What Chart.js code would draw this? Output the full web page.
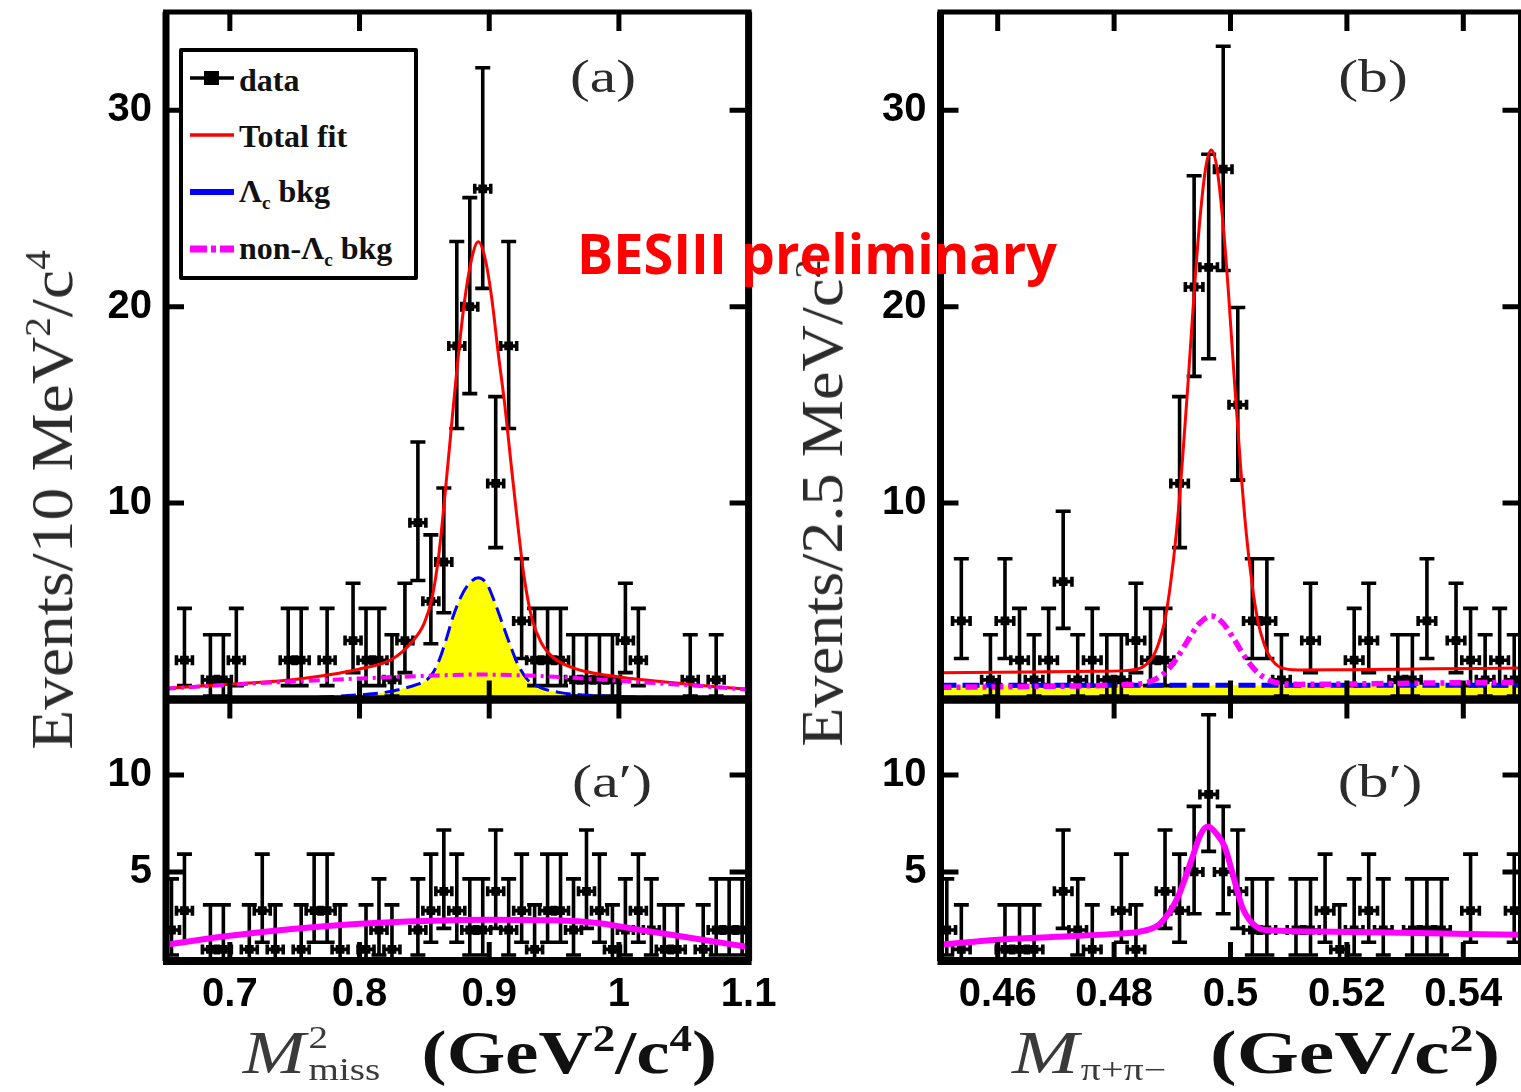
<!DOCTYPE html>
<html>
<head>
<meta charset="utf-8">
<title>BESIII preliminary</title>
<script src="https://cdn.jsdelivr.net/npm/chart.js@4.4.1/dist/chart.umd.min.js"></script>
<style>
  html, body { margin:0; padding:0; background:#fff; }
  body { width:1521px; height:1092px; position:relative; overflow:hidden; }
  .pane { position:absolute; }
  .pane canvas { display:block; }
  .lbl { position:absolute; left:0; top:0; white-space:nowrap; line-height:1; z-index:5; }
  .serif { font-family:"Liberation Serif","DejaVu Serif",serif; }
  .ytitle { font-size:60px; color:#2b2b2b; }
  .ytitle sup, .unit sup { font-size:0.6em; vertical-align:0.6em; line-height:0; }
  .tag { font-size:46px; color:#2b2b2b; }
  .xtitle { font-size:62px; color:#3a3a3a; height:62px; }
  .xtitle .mi { font-style:italic; }
  .xtitle .supsub { display:inline-block; font-size:0.52em; line-height:1; vertical-align:-7px; margin-left:0.08em; }
  .xtitle .supsub span { display:block; }
  .xtitle .sub { font-size:0.5em; vertical-align:-7px; line-height:0; margin-left:0.06em; }
  .xtitle .unit { font-weight:bold; color:#111; margin-left:0.55em; }
  .stamp { font-family:"Open Sans","DejaVu Sans",sans-serif; font-weight:700; font-size:56px; color:#ff0000; }
  #legend { position:absolute; left:179px; top:48px; width:239px; height:232px; border:4.5px solid #000; box-sizing:border-box; background:#fff; z-index:4; border-radius:2px; }
  .legtxt { font-family:"Liberation Serif","DejaVu Serif",serif; font-weight:bold; font-size:32px; color:#111; }
  .legtxt sub { font-size:0.6em; vertical-align:-0.35em; line-height:0; }
  svg.sample { position:absolute; z-index:6; }
</style>
</head>
<body>

<div class="pane" style="left:0;top:0"><canvas id="panelA" width="800" height="720"></canvas></div>
<div class="pane" style="left:0;top:680px"><canvas id="panelA2" width="800" height="412"></canvas></div>
<div class="pane" style="left:780px;top:0"><canvas id="panelB" width="800" height="720"></canvas></div>
<div class="pane" style="left:780px;top:680px"><canvas id="panelB2" width="800" height="412"></canvas></div>

<div id="legend"></div>
<svg class="sample" style="left:188px;top:68px" width="48" height="20">
  <line x1="2" y1="10" x2="46" y2="10" stroke="#000" stroke-width="3.5"/>
  <rect x="16" y="3" width="15" height="14" fill="#000"/>
</svg>
<svg class="sample" style="left:188px;top:125px" width="48" height="20">
  <line x1="2" y1="10" x2="46" y2="10" stroke="#ff0000" stroke-width="3.5"/>
</svg>
<svg class="sample" style="left:188px;top:182px" width="48" height="20">
  <line x1="2" y1="10" x2="46" y2="10" stroke="#0000ff" stroke-width="6"/>
</svg>
<svg class="sample" style="left:188px;top:239px" width="48" height="20">
  <line x1="2" y1="10" x2="46" y2="10" stroke="#ff00ff" stroke-width="7" stroke-dasharray="17 4 5 4"/>
</svg>
<div class="lbl legtxt" id="legData">data</div>
<div class="lbl legtxt" id="legFit">Total fit</div>
<div class="lbl legtxt" id="legLc">Λ<sub>c</sub> bkg</div>
<div class="lbl legtxt" id="legNonLc">non-Λ<sub>c</sub> bkg</div>

<div class="lbl serif ytitle" id="ytitleA">Events/10 MeV<sup>2</sup>/c<sup>4</sup></div>
<div class="lbl serif ytitle" id="ytitleB">Events/2.5 MeV/c<sup>2</sup></div>
<div class="lbl serif xtitle" id="xtitleA"><span class="mi">M</span><span class="supsub"><span>2</span><span>miss</span></span><span class="unit">(GeV<sup>2</sup>/c<sup>4</sup>)</span></div>
<div class="lbl serif xtitle" id="xtitleB"><span class="mi">M</span><span class="sub">π+π−</span><span class="unit">(GeV/c<sup>2</sup>)</span></div>
<div class="lbl serif tag" id="tagA">(a)</div>
<div class="lbl serif tag" id="tagB">(b)</div>
<div class="lbl serif tag" id="tagA2">(a′)</div>
<div class="lbl serif tag" id="tagB2">(b′)</div>
<div class="lbl stamp" id="stamp">BESIII preliminary</div>

<script>
// ---- Binning: centres of 10 MeV^2/c^4 bins in M^2_miss (GeV^2/c^4)
const missMassCentres = [0.655,0.665,0.675,0.685,0.695,0.705,0.715,0.725,0.735,0.745,
  0.755,0.765,0.775,0.785,0.795,0.805,0.815,0.825,0.835,0.845,
  0.855,0.865,0.875,0.885,0.895,0.905,0.915,0.925,0.935,0.945,
  0.955,0.965,0.975,0.985,0.995,1.005,1.015,1.025,1.035,1.045,
  1.055,1.065,1.075,1.085,1.095];
// Events per bin, signal region (a) and sideband (a')
const missMassCounts = [0,2,0,1,1,2,0,0,0,2, 2,0,2,0,3,2,2,1,3,9, 5,7,18,20,26,11,18,4,2,2, 2,1,1,1,1,3,2,0,0,0, 1,0,1,0,0];
const missMassSideband = [2,3,0,1,1,0,1,3,1,0, 1,3,3,1,0,1,2,1,0,2, 3,4,3,2,2,4,2,3,1,3, 3,2,4,3,1,2,3,2,1,1, 0,1,2,2,2];

// ---- Binning: centres of 2.5 MeV/c^2 bins in M(pi+ pi-) (GeV/c^2)
const pipiCentres = [0.45125,0.45375,0.45625,0.45875,0.46125,0.46375,0.46625,0.46875,0.47125,0.47375,
  0.47625,0.47875,0.48125,0.48375,0.48625,0.48875,0.49125,0.49375,0.49625,0.49875,
  0.50125,0.50375,0.50625,0.50875,0.51125,0.51375,0.51625,0.51875,0.52125,0.52375,
  0.52625,0.52875,0.53125,0.53375,0.53625,0.53875,0.54125,0.54375,0.54625,0.54875];
const pipiCounts = [0,4,0,1,4,2,1,2,6,1, 2,1,1,3,2,2,11,21,22,27, 15,4,4,1,0,3,0,0,2,3, 0,1,1,4,0,3,2,1,2,1];
const pipiSideband = [2,1,0,0,1,1,1,0,4,2, 1,0,3,1,0,4,3,5,9,5, 4,2,2,0,2,2,3,1,2,3, 2,0,2,2,2,0,3,0,0,3];

// ---- Central 68% Poisson intervals indexed by observed count
const poissonLow  = [0,0.173,0.708,1.367,2.086,2.840,3.620,4.419,5.232,6.057,6.891,7.734,8.585,9.441,10.30,11.17,12.04,12.92,13.80,14.68,15.57,16.45,17.35,18.24,19.14,20.03,20.93,21.84,22.74];
const poissonHigh = [1.841,3.300,4.638,5.918,7.163,8.382,9.584,10.77,11.95,13.11,14.27,15.42,16.56,17.70,18.83,19.96,21.08,22.20,23.32,24.44,25.55,26.66,27.76,28.87,29.97,31.07,32.16,33.26,34.35];

// ---- Fit curves, panel (a)
const fitAx     = [0.650,0.700,0.750,0.800,0.825,0.840,0.850,0.856,0.861,0.866,0.871,0.876,0.881,0.886,0.8915,0.897,0.902,0.907,0.912,0.917,0.922,0.927,0.933,0.940,0.950,0.965,0.980,1.000,1.040,1.070,1.100];
const fitAtotal = [0.56,0.78,1.02,1.55,2.05,2.9,3.9,5.2,7.3,10.5,14.0,17.4,20.3,22.3,23.3,22.4,20.4,17.6,15.0,11.9,8.9,6.2,4.1,2.9,2.1,1.6,1.35,1.15,0.86,0.68,0.52];
const lcBkgAx   = [0.650,0.750,0.780,0.800,0.815,0.830,0.845,0.852,0.857,0.862,0.867,0.872,0.878,0.8845,0.8915,0.898,0.904,0.910,0.916,0.922,0.929,0.939,0.955,0.975,1.000,1.050,1.100];
const lcBkgA    = [0.03,0.07,0.15,0.24,0.32,0.50,0.78,1.0,1.4,2.1,3.1,4.2,5.2,5.9,6.2,5.9,5.0,3.9,2.8,1.8,1.05,0.62,0.35,0.22,0.15,0.08,0.05];
const nonLcAx   = [0.65,0.70,0.75,0.80,0.85,0.89,0.93,0.97,1.00,1.05,1.10];
const nonLcA    = [0.55,0.75,0.92,1.07,1.20,1.27,1.22,1.08,0.95,0.74,0.50];
// sideband fit, panel (a')
const sideAx    = [0.65,0.70,0.75,0.80,0.85,0.90,0.95,0.985,1.015,1.05,1.10];
const sideA     = [1.24,1.70,2.06,2.32,2.47,2.53,2.50,2.35,2.02,1.65,1.12];

// ---- Fit curves, panel (b)
const fitBx     = [0.450,0.465,0.478,0.4817,0.4847,0.4867,0.4877,0.4887,0.4897,0.4907,0.4917,0.4927,0.4937,0.4947,0.4957,0.4967,0.4977,0.4987,0.4997,0.5007,0.5017,0.5027,0.5037,0.5047,0.5057,0.5067,0.5087,0.5117,0.520,0.535,0.550];
const fitBtotal = [1.36,1.40,1.44,1.47,1.62,2.2,2.9,4.0,5.9,8.5,12.0,16.1,20.5,24.3,27.0,27.97,27.0,24.3,20.5,16.1,12.0,8.5,5.9,4.0,2.9,2.2,1.62,1.5,1.52,1.56,1.60];
const lcBkgBx   = [0.45,0.55];
const lcBkgB    = [0.72,0.72];
const nonLcBx   = [0.450,0.465,0.4817,0.4847,0.4867,0.4887,0.4907,0.4927,0.4947,0.4967,0.4987,0.5007,0.5027,0.5047,0.5067,0.5087,0.5117,0.520,0.535,0.550];
const nonLcB    = [0.62,0.66,0.75,0.81,0.98,1.36,2.07,3.02,3.89,4.25,3.89,3.02,2.07,1.36,0.98,0.81,0.77,0.79,0.84,0.88];
// sideband fit, panel (b')
const sideBx    = [0.450,0.460,0.470,0.480,0.485,0.488,0.491,0.4935,0.4948,0.4961,0.4975,0.499,0.5005,0.502,0.5037,0.506,0.515,0.532,0.550];
const sideB     = [1.24,1.50,1.65,1.80,1.95,2.36,3.73,5.8,6.9,7.34,7.0,6.3,4.76,3.2,2.36,2.0,1.92,1.84,1.75];

// ---- Axis ticks
const missMassTicks = [0.7,0.8,0.9,1.0,1.1];
const missMassTickLabels = ['0.7','0.8','0.9','1','1.1'];
const pipiTicks = [0.46,0.48,0.50,0.52,0.54];
const pipiTickLabels = ['0.46','0.48','0.5','0.52','0.54'];
const eventTicksUpper = [10,20,30];
const eventTicksLower = [5,10];

// ---------------------------------------------------------------
function histPoints(centres, counts) {
  const pts = [];
  centres.forEach((x, i) => {
    const n = counts[i];
    if (n > 0) pts.push({x: x, y: n, lo: poissonLow[n], hi: poissonHigh[n]});
  });
  return pts;
}
function curvePoints(xs, ys) { return xs.map((x, i) => ({x: x, y: ys[i]})); }

// Inward ticks on all four sides plus the heavy frame
const frameTicks = {
  id: 'frameTicks',
  afterDatasetsDraw(chart, args, o) {
    const {ctx, chartArea: a, scales} = chart;
    const xs = scales.x, ys = scales.y;
    ctx.save();
    ctx.strokeStyle = '#000';
    ctx.lineCap = 'butt';
    ctx.lineWidth = 5;
    ctx.beginPath();
    o.xTicks.forEach(v => {
      const px = xs.getPixelForValue(v);
      if (px < a.left + 4 || px > a.right - 4) return;
      ctx.moveTo(px, a.top); ctx.lineTo(px, a.top + o.len);
      ctx.moveTo(px, a.bottom); ctx.lineTo(px, a.bottom - o.len);
    });
    o.yTicks.forEach(v => {
      const py = ys.getPixelForValue(v);
      ctx.moveTo(a.left, py); ctx.lineTo(a.left + o.len, py);
      ctx.moveTo(a.right, py); ctx.lineTo(a.right - o.len, py);
    });
    ctx.stroke();
    ctx.lineWidth = 7;
    ctx.beginPath();
    ctx.moveTo(a.left + 1, a.top); ctx.lineTo(a.left + 1, a.bottom);
    ctx.moveTo(a.right, a.top); ctx.lineTo(a.right, a.bottom);
    ctx.stroke();
    ctx.lineWidth = o.topWidth;
    ctx.beginPath(); ctx.moveTo(a.left - 2, a.top); ctx.lineTo(a.right + 3, a.top); ctx.stroke();
    ctx.lineWidth = o.bottomWidth;
    ctx.beginPath(); ctx.moveTo(a.left - 2, a.bottom); ctx.lineTo(a.right + 3, a.bottom); ctx.stroke();
    ctx.restore();
  }
};

// Vertical Poisson error bars and horizontal bin-width bars under each data marker
const errorBars = {
  id: 'errorBars',
  beforeDatasetDraw(chart, args, o) {
    const ds = chart.data.datasets[args.index];
    if (!ds.histogram) return;
    const {ctx, chartArea: a} = chart;
    const xs = chart.scales.x, ys = chart.scales.y;
    ctx.save();
    ctx.beginPath(); ctx.rect(a.left, a.top, a.right - a.left, a.bottom - a.top); ctx.clip();
    ctx.strokeStyle = '#000';
    ctx.lineWidth = 3.6;
    ctx.beginPath();
    ds.data.forEach(p => {
      const x = xs.getPixelForValue(p.x), y = ys.getPixelForValue(p.y);
      const yl = ys.getPixelForValue(p.lo), yh = ys.getPixelForValue(p.hi);
      const xl = xs.getPixelForValue(p.x - o.halfBin) - 1.5, xr = xs.getPixelForValue(p.x + o.halfBin) + 1.5;
      ctx.moveTo(x, yl); ctx.lineTo(x, yh);
      ctx.moveTo(x - o.cap, yh); ctx.lineTo(x + o.cap, yh);
      ctx.moveTo(x - o.cap, yl); ctx.lineTo(x + o.cap, yl);
      ctx.moveTo(xl, y); ctx.lineTo(xr, y);
      ctx.moveTo(xl, y - 5); ctx.lineTo(xl, y + 5);
      ctx.moveTo(xr, y - 5); ctx.lineTo(xr, y + 5);
    });
    ctx.stroke();
    ctx.restore();
  }
};

function dataSet(points) {
  return {type: 'scatter', data: points, histogram: true, showLine: false,
    pointStyle: 'rect', pointRadius: 6.2, pointBackgroundColor: '#000', pointBorderWidth: 0};
}
function lineSet(points, color, width, dash, fillColor) {
  return {type: 'line', data: points, borderColor: color, borderWidth: width,
    borderDash: dash || [], pointRadius: 0, cubicInterpolationMode: 'monotone',
    fill: fillColor ? 'origin' : false, backgroundColor: fillColor || 'transparent'};
}

const tickFont = {family: '"Liberation Sans", Arial, sans-serif', weight: 'bold', size: 40};

function makePanel(id, c) {
  return new Chart(document.getElementById(id), {
    type: 'line',
    data: {datasets: c.datasets},
    options: {
      responsive: false, animation: false, events: [], devicePixelRatio: 1,
      layout: {padding: c.padding},
      plugins: {
        legend: {display: false}, tooltip: {enabled: false},
        filler: {drawTime: 'beforeDatasetsDraw'},
        frameTicks: {xTicks: c.xTicks, yTicks: c.yTicks, len: 19, topWidth: c.topWidth, bottomWidth: c.bottomWidth},
        errorBars: {halfBin: c.halfBin, cap: 7.5}
      },
      scales: {
        x: {
          type: 'linear', min: c.xMin, max: c.xMax,
          afterFit(s) { s.height = c.xAxisHeight; s.paddingLeft = 0; s.paddingRight = 0; },
          afterBuildTicks(s) { s.ticks = c.xTicks.map(v => ({value: v})); },
          grid: {display: false, drawTicks: false}, border: {display: false},
          ticks: {display: c.xLabels, padding: 10, font: tickFont, color: '#000',
            maxRotation: 0, autoSkip: false, callback: (v, i) => c.xTickLabels[i]}
        },
        y: {
          type: 'linear', min: c.yMin, max: c.yMax,
          afterFit(s) { s.width = c.yAxisWidth; s.paddingTop = 0; s.paddingBottom = 0; },
          afterBuildTicks(s) { s.ticks = c.yTicks.map(v => ({value: v})); },
          grid: {display: false, drawTicks: false}, border: {display: false},
          ticks: {padding: 13, font: tickFont, color: '#000', callback: (v) => String(v)}
        }
      }
    },
    plugins: [frameTicks, errorBars]
  });
}

// (a) missing-mass-squared, signal region
makePanel('panelA', {
  datasets: [
    lineSet(curvePoints(nonLcAx, nonLcA), '#ff00ff', 4, [11, 5, 3, 5]),
    lineSet(curvePoints(fitAx, fitAtotal), '#ff0000', 3),
    lineSet(curvePoints(lcBkgAx, lcBkgA), '#0000ff', 3, [15, 7], '#ffff00'),
    dataSet(histPoints(missMassCentres, missMassCounts))
  ],
  padding: {left: 0, top: 12, right: 51.4, bottom: 20.5},
  xMin: 0.65, xMax: 1.1, yMin: 0, yMax: 35,
  xTicks: missMassTicks, xTickLabels: missMassTickLabels, yTicks: eventTicksUpper,
  xLabels: false, xAxisHeight: 0, yAxisWidth: 165, halfBin: 0.005,
  topWidth: 5, bottomWidth: 8
});
// (a') missing-mass-squared, sideband
makePanel('panelA2', {
  datasets: [
    lineSet(curvePoints(sideAx, sideA), '#ff00ff', 6),
    dataSet(histPoints(missMassCentres, missMassSideband))
  ],
  padding: {left: 0, top: 19.5, right: 51.4, bottom: 71},
  xMin: 0.65, xMax: 1.1, yMin: 0.4, yMax: 13.9,
  xTicks: missMassTicks, xTickLabels: missMassTickLabels, yTicks: eventTicksLower,
  xLabels: true, xAxisHeight: 60, yAxisWidth: 165, halfBin: 0.005,
  topWidth: 8, bottomWidth: 8
});
// (b) pi+ pi- invariant mass, signal region
makePanel('panelB', {
  datasets: [
    lineSet(curvePoints(nonLcBx, nonLcB), '#ff00ff', 5.5, [12, 5, 4, 5]),
    lineSet(curvePoints(fitBx, fitBtotal), '#ff0000', 3),
    lineSet(curvePoints(lcBkgBx, lcBkgB), '#0000ff', 5, [17, 6], '#ffff00'),
    dataSet(histPoints(pipiCentres, pipiCounts))
  ],
  padding: {left: 0, top: 12, right: 58.5, bottom: 20.5},
  xMin: 0.45, xMax: 0.55, yMin: 0, yMax: 35,
  xTicks: pipiTicks, xTickLabels: pipiTickLabels, yTicks: eventTicksUpper,
  xLabels: false, xAxisHeight: 0, yAxisWidth: 159.5, halfBin: 0.00125,
  topWidth: 5, bottomWidth: 8
});
// (b') pi+ pi- invariant mass, sideband
makePanel('panelB2', {
  datasets: [
    lineSet(curvePoints(sideBx, sideB), '#ff00ff', 6),
    dataSet(histPoints(pipiCentres, pipiSideband))
  ],
  padding: {left: 0, top: 19.5, right: 58.5, bottom: 71},
  xMin: 0.45, xMax: 0.55, yMin: 0.4, yMax: 13.9,
  xTicks: pipiTicks, xTickLabels: pipiTickLabels, yTicks: eventTicksLower,
  xLabels: true, xAxisHeight: 60, yAxisWidth: 159.5, halfBin: 0.00125,
  topWidth: 8, bottomWidth: 8
});

// ---- Text placement (centre x, centre y, target width, rotated)
function place(id, cx, cy, width, rotated) {
  const el = document.getElementById(id);
  const s = width ? width / el.offsetWidth : 1;
  el.style.left = cx + 'px';
  el.style.top = cy + 'px';
  el.style.transform = 'translate(-50%,-50%)' + (rotated ? ' rotate(-90deg)' : '') + ' scaleX(' + s + ')';
}
function placeLeft(id, x, cy) {
  const el = document.getElementById(id);
  el.style.left = x + 'px';
  el.style.top = cy + 'px';
  el.style.transform = 'translateY(-50%)';
}
place('ytitleA', 52, 500, 500, true);
place('ytitleB', 822, 503, 488, true);
place('xtitleA', 480, 1052, 474);
place('xtitleB', 1256, 1052, 488);
place('tagA', 603, 77, 66);
place('tagB', 1373, 77, 70);
place('tagA2', 612, 782, 80);
place('tagB2', 1380, 782, 85);
place('stamp', 817, 252, 480);
placeLeft('legData', 239, 80);
placeLeft('legFit', 239, 136);
placeLeft('legLc', 239, 191);
placeLeft('legNonLc', 239, 248);
</script>
</body>
</html>
